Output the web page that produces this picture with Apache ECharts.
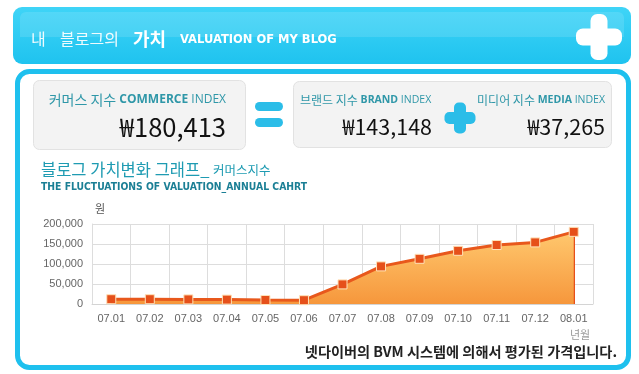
<!DOCTYPE html>
<html>
<head>
<meta charset="utf-8">
<script src="https://cdn.jsdelivr.net/npm/echarts@6/dist/echarts.min.js"></script>
<style>html,body{margin:0;padding:0;background:#fff;}#c{width:639px;height:374px;}</style>
</head>
<body>
<div id="c"></div>
<script>
const categories = ['07.01','07.02','07.03','07.04','07.05','07.06','07.07','07.08','07.09','07.10','07.11','07.12','08.01'];
const commerceValues = [12000, 12000, 11500, 11000, 10000, 9500, 49000, 94000, 113000, 133000, 147500, 154000, 180413];
const yTicks = [0, 50000, 100000, 150000, 200000];
const commerceIndex = '₩180,413';
const brandIndex = '₩143,148';
const mediaIndex = '₩37,265';

const KR = '"Noto Sans CJK KR", "Noto Sans", sans-serif';
const chart = echarts.init(document.getElementById('c'), null, {renderer: 'canvas'});

function plus(cx, cy, len, th, color, z) {
  return [
    {type:'rect', shape:{x:cx-len/2, y:cy-th/2, width:len, height:th, r:th/2.5}, style:{fill:color}, z:z},
    {type:'rect', shape:{x:cx-th/2, y:cy-len/2, width:th, height:len, r:th/2.5}, style:{fill:color}, z:z}
  ];
}
function rich(kSize, eSize) {
  return {
    k:{fontFamily:KR, fontSize:kSize, fill:'#2f97a8'},
    b:{fontFamily:'"Open Sans", sans-serif', fontSize:eSize, fontWeight:'bold', fill:'#2f97a8'},
    n:{fontFamily:'"Open Sans", sans-serif', fontSize:eSize, fill:'#2f97a8'}
  };
}

const graphics = [
  // header bar
  {type:'rect', shape:{x:13, y:7, width:618, height:57, r:9},
   style:{fill:new echarts.graphic.LinearGradient(0,0,0,1,[{offset:0,color:'#3fd4f7'},{offset:1,color:'#1fc3ef'}])}, z:1},
  {type:'rect', shape:{x:20, y:12, width:604, height:25, r:[6,6,0,0]},
   style:{fill:'rgba(255,255,255,0.12)'}, z:2},
  {type:'text', x:31, y:39, style:{text:'내', fontFamily:KR, fontSize:16, fill:'rgba(255,255,255,0.92)', verticalAlign:'middle'}, z:3},
  {type:'text', x:60, y:39, style:{text:'블로그의', fontFamily:KR, fontSize:16, fill:'rgba(255,255,255,0.92)', verticalAlign:'middle'}, z:3},
  {type:'text', x:133, y:39, style:{text:'가치', fontFamily:KR, fontSize:18, fontWeight:'bold', fill:'#fff', verticalAlign:'middle'}, z:3},
  {type:'text', x:180, y:40, style:{text:'VALUATION OF MY BLOG', fontFamily:'"DejaVu Sans", sans-serif', fontSize:11.5, fontWeight:'bold', fill:'#fff', verticalAlign:'middle'}, z:3},
  ...plus(599, 37, 46, 17, '#ffffff', 3),
  // main box
  {type:'rect', shape:{x:17.5, y:71.5, width:611, height:296, r:12},
   style:{fill:'#fff', stroke:'#1ec0ee', lineWidth:5}, z:0},
  // commerce box
  {type:'rect', shape:{x:33.5, y:80.5, width:212, height:69, r:6},
   style:{fill:'#f3f3f3', stroke:'#e2e2e2', lineWidth:1}, z:1},
  {type:'text', x:226, y:100, style:{text:'{k|커머스 지수 }{b|COMMERCE }{n|INDEX}', align:'right', verticalAlign:'middle', rich:rich(14, 12)}, z:2},
  {type:'text', x:226, y:127, style:{text:commerceIndex, fontFamily:KR, fontSize:25.5, fill:'#111', align:'right', verticalAlign:'middle'}, z:2},
  // equals
  {type:'rect', shape:{x:255, y:102, width:28, height:9, r:4.5}, style:{fill:'#2bbde8'}, z:2},
  {type:'rect', shape:{x:255, y:118, width:28, height:9, r:4.5}, style:{fill:'#2bbde8'}, z:2},
  // brand + media box
  {type:'rect', shape:{x:293.5, y:81.5, width:318, height:66, r:6},
   style:{fill:'#f3f3f3', stroke:'#e2e2e2', lineWidth:1}, z:1},
  {type:'text', x:300, y:100, style:{text:'{k|브랜드 지수 }{b|BRAND }{n|INDEX}', align:'left', verticalAlign:'middle', rich:rich(12, 10.5)}, z:2},
  {type:'text', x:432, y:127, style:{text:brandIndex, fontFamily:KR, fontSize:21.5, fill:'#111', align:'right', verticalAlign:'middle'}, z:2},
  ...plus(460, 118, 31, 12, '#2bbde8', 2),
  {type:'text', x:605, y:100, style:{text:'{k|미디어 지수 }{b|MEDIA }{n|INDEX}', align:'right', verticalAlign:'middle', rich:rich(12, 10.5)}, z:2},
  {type:'text', x:605, y:127, style:{text:mediaIndex, fontFamily:KR, fontSize:21.5, fill:'#111', align:'right', verticalAlign:'middle'}, z:2},
  // chart titles
  {type:'text', x:41, y:170, style:{
    text:'{a|블로그 가치변화 그래프_ }{b|커머스지수}', verticalAlign:'middle',
    rich:{a:{fontFamily:KR, fontSize:16.5, fill:'#1e9bb2'}, b:{fontFamily:KR, fontSize:12.5, fill:'#1e9bb2'}}}, z:2},
  {type:'text', x:41, y:187, style:{text:'THE FLUCTUATIONS OF VALUATION_ANNUAL CAHRT', fontFamily:'"DejaVu Sans Condensed", sans-serif', fontSize:10.3, fontWeight:'bold', fill:'#1b7f95', verticalAlign:'middle'}, z:2},
  {type:'text', x:95, y:209, style:{text:'원', fontFamily:KR, fontSize:11, fill:'#555', verticalAlign:'middle'}, z:2},
  {type:'text', x:570, y:335, style:{text:'년월', fontFamily:KR, fontSize:11, fill:'#999', verticalAlign:'middle'}, z:2},
  {type:'text', x:617, y:352, style:{text:'넷다이버의 BVM 시스템에 의해서 평가된 가격입니다.', fontFamily:KR, fontSize:14.2, fontWeight:'bold', fill:'#222', align:'right', verticalAlign:'middle'}, z:2}
];

chart.setOption({
  backgroundColor:'#ffffff',
  animation:false,
  grid:{left:92, right:46, top:224, bottom:70, containLabel:false, z:5},
  graphic:graphics,
  xAxis:{
    type:'category', data:categories, boundaryGap:true, z:5,
    axisLine:{show:true, lineStyle:{color:'#d4d4d4'}},
    axisTick:{show:false},
    axisLabel:{color:'#666', fontSize:11, margin:9, fontFamily:'"Liberation Sans", sans-serif', interval:0},
    splitLine:{show:true, interval:0, lineStyle:{color:'#dddddd', width:1}}
  },
  yAxis:{
    type:'value', min:yTicks[0], max:yTicks[yTicks.length-1], interval:yTicks[1]-yTicks[0], z:5,
    axisLine:{show:true, lineStyle:{color:'#dddddd'}},
    axisTick:{show:false},
    axisLabel:{color:'#666', fontSize:11, margin:9, fontFamily:'"Liberation Sans", sans-serif',
      formatter:v=>v.toLocaleString('en-US')},
    splitLine:{show:true, lineStyle:{color:'#dddddd', width:1}}
  },
  series:[{
    type:'line', data:commerceValues, z:6,
    symbol:'rect', symbolSize:9, showAllSymbol:true,
    lineStyle:{color:'#e8581c', width:3},
    itemStyle:{color:'#e6501a', borderColor:'#ffe2b8', borderWidth:1},
    areaStyle:{opacity:1, color:new echarts.graphic.LinearGradient(0,0,0,1,[{offset:0,color:'#ffc86e'},{offset:1,color:'#f6973c'}])},
    markLine:{silent:true, symbol:['none','none'], label:{show:false},
      lineStyle:{color:'#e6501a', width:3, type:'solid'},
      data:[[{coord:[categories[categories.length-1], commerceValues[commerceValues.length-1]]},{coord:[categories[categories.length-1], 0]}]]}
  }]
});
</script>
</body>
</html>
